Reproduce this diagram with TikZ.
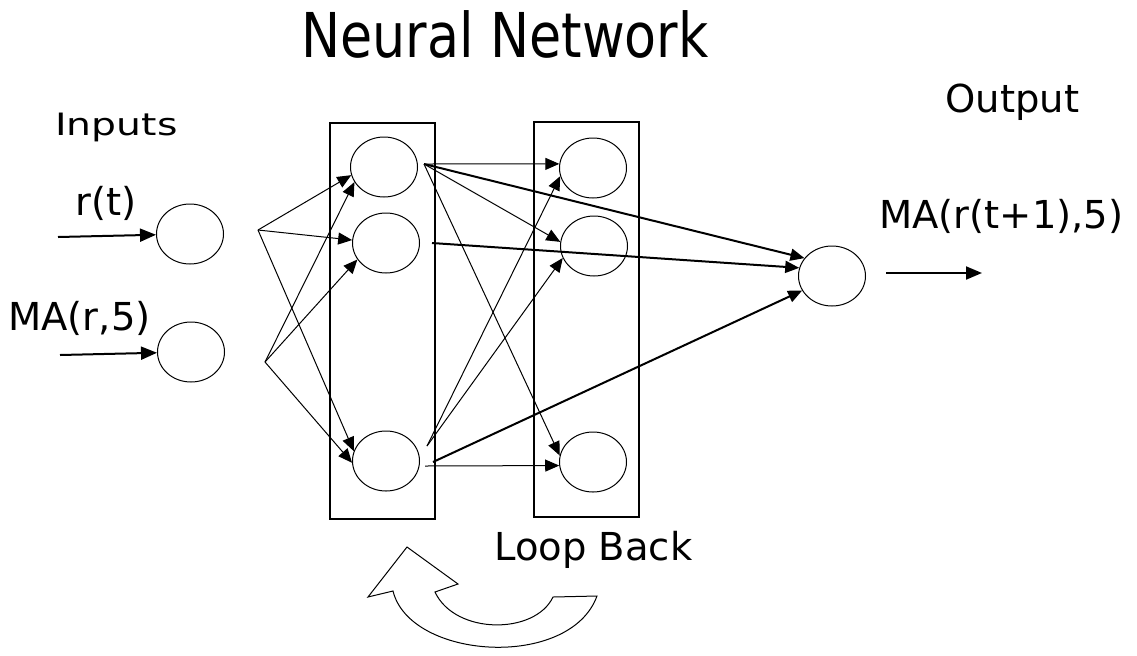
\documentclass[tikz,border=0pt]{standalone}
\usepackage{fontspec}
\setmainfont{DejaVu Sans}
\usepackage{graphicx}
\usetikzlibrary{shapes.geometric,arrows.meta}
\begin{document}
\begin{tikzpicture}[x=0.5pt,y=-0.5pt,
  neuron/.style={ellipse,draw,line width=0.5pt,minimum width=33.5pt,minimum height=30pt,inner sep=0pt},
  layerbox/.style={draw,line width=0.75pt,inner sep=0pt,minimum width=52.5pt},
  conn/.style={line width=0.5pt,-{Triangle[length=7pt,width=6pt]}},
  thickconn/.style={line width=1pt,-{Triangle[length=7pt,width=6pt]}},
  ioarrow/.style={line width=1pt,-{Triangle[length=8pt,width=6.5pt]}},
  lab/.style={anchor=base west,inner sep=0pt,font=\fontsize{19.25}{23}\selectfont},
  loopshape/.style={draw,line width=0.5pt,line join=miter}
]
\useasboundingbox (0,0) rectangle (1137,655);

% title and labels
\node[anchor=base west,inner sep=0pt] (title) at (301,57)
  {\scalebox{0.846}[1]{\fontsize{30.9}{36}\selectfont Neural Network}};
\node[lab] (inputs) at (55,135) {\scalebox{1.02}[0.8]{Inputs}};
\node[lab] (output) at (945,112) {Output};
\node[lab] (rt) at (75,215) {r(t)};
\node[lab] (mar5) at (8,330) {MA(r,5)};
\node[lab] (mart1) at (879,228) {MA(r(t+1),5)};
\node[lab] (loopback) at (494,560) {Loop Back};

% layer boxes
\node[layerbox,minimum height=198pt] (b1) at (382.5,321) {};
\node[layerbox,minimum height=197.5pt] (b2) at (586.5,319.5) {};

% neurons
\node[neuron] (i1) at (190,234) {};
\node[neuron] (i2) at (191,352) {};
\node[neuron] (h1) at (384,167) {};
\node[neuron] (h2) at (386,243) {};
\node[neuron] (h3) at (386,461) {};
\node[neuron] (g1) at (593,168) {};
\node[neuron] (g2) at (594,246) {};
\node[neuron] (g3) at (593,462) {};
\node[neuron] (o) at (832,276) {};

% free ends
\coordinate (in1) at (58,237);
\coordinate (in2) at (60,355);
\coordinate (f1) at (258,230);
\coordinate (f2) at (265,362);
\coordinate (s1) at (424,164);
\coordinate (s2) at (432,243);
\coordinate (s3a) at (427,446);
\coordinate (s3b) at (433,462);
\coordinate (s3c) at (425,466);
\coordinate (outend) at (982,273);

% input arrows
\draw[ioarrow] (in1) -- (i1);
\draw[ioarrow] (in2) -- (i2);

% input fan to hidden layer
\draw[conn] (f1) -- (h1.194);
\draw[conn] (f2) -- (h1.207);
\draw[conn] (f1) -- (h2.175);
\draw[conn] (f2) -- (h2.210);
\draw[conn] (f1) -- (h3.163);
\draw[conn] (f2) -- (h3.183);

% hidden to context / output
\draw[conn] (s1) -- (g1.173);
\draw[conn] (s1) -- (g2.173);
\draw[conn] (s1) -- (g3.169);
\draw[thickconn] (s1) -- (o.147);
\draw[thickconn] (s2) -- (o.166);
\draw[conn] (s3a) -- (g1.194);
\draw[conn] (s3a) -- (g2.201);
\draw[thickconn] (s3b) -- (o.206);
\draw[conn] (s3c) -- (g3.186);

% output arrow
\draw[ioarrow] ([xshift=10pt,yshift=1.5pt]o.east) -- (outend);

% loop back curved arrow
\draw[loopshape] (597,596) -- (553,597)
  .. controls (535,635) and (455,635) .. (435,592)
  -- (458,584) -- (407,547) -- (368,597) -- (393,591)
  .. controls (410,660) and (570,670) .. (597,596) -- cycle;
\end{tikzpicture}
\end{document}
